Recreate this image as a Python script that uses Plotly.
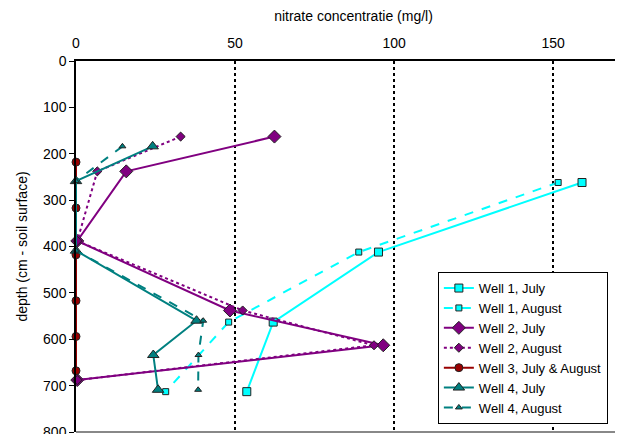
import plotly.graph_objects as go

# depth (cm) and nitrate (mg/l)
w1_july_x = [159.1, 95.1, 62.0, 53.7]
w1_july_d = [262, 412, 563, 713]
w1_aug_x = [151.6, 88.9, 48.0, 28.2]
w1_aug_d = [262, 412, 563, 713]

w2_july_x = [62.4, 15.8, 0.4, 48.4, 96.6, 0.4]
w2_july_d = [163, 238, 388, 538, 613, 688]
w2_aug_x = [32.9, 6.7, 0.4, 52.4, 93.7, 0.4]
w2_aug_d = [163, 238, 388, 538, 613, 688]

w3_x = [0, 0, 0, 0, 0, 0]
w3_d = [218, 317, 418, 517, 594, 668]

w4_july_x = [24.1, 0, 0, 37.9, 24.3, 25.8]
w4_july_d = [184, 259, 409, 560, 634, 709]
w4_aug_x = [14.6, 0, 0, 40.0, 38.5, 38.4]
w4_aug_d = [184, 259, 409, 560, 634, 709]

x_ticks = [0, 50, 100, 150]
y_ticks = [0, 100, 200, 300, 400, 500, 600, 700, 800]

CYAN = "#00FFFF"
PURPLE = "#800080"
RED = "#990000"
TEAL = "#008080"

fig = go.Figure()

def add(name, x, y, color, dash, symbol, size):
    fig.add_trace(go.Scatter(
        x=x, y=y, name=name, mode="lines+markers", cliponaxis=False,
        line=dict(color=color, width=2, dash=dash),
        marker=dict(symbol=symbol, size=size, color=color,
                    line=dict(color="#222222", width=1)),
    ))

add("Well 1, July", w1_july_x, w1_july_d, CYAN, "solid", "square", 8)
add("Well 1, August", w1_aug_x, w1_aug_d, CYAN, "dash", "square", 6)
add("Well 2, July", w2_july_x, w2_july_d, PURPLE, "solid", "diamond", 10)
add("Well 2, August", w2_aug_x, w2_aug_d, PURPLE, "dot", "diamond", 7)
add("Well 3, July & August", w3_x, w3_d, RED, "solid", "circle", 8)
add("Well 4, July", w4_july_x, w4_july_d, TEAL, "solid", "triangle-up", 10)
add("Well 4, August", w4_aug_x, w4_aug_d, TEAL, "dash", "triangle-up", 6)

font = "Liberation Sans, Arial, sans-serif"

# page body has an 8px default margin, so offsets compensate for it
fig.update_layout(
    width=623, height=434,
    margin=dict(l=68, r=0, t=53, b=10),
    paper_bgcolor="white", plot_bgcolor="white",
    font=dict(family=font, size=14, color="black"),
    showlegend=True,
    legend=dict(
        x=0.652, y=0.431, xanchor="left", yanchor="top",
        bgcolor="white", bordercolor="black", borderwidth=1,
        font=dict(size=13, family=font), tracegroupgap=0,
        itemwidth=30,
    ),
    xaxis=dict(
        side="top", range=[0, 174.5], tickvals=x_ticks, automargin=False,
        showgrid=True, gridcolor="black", griddash="dot", gridwidth=1.5,
        zeroline=False, showline=True, linecolor="black", linewidth=1.5,
        ticks="", tickfont=dict(size=14), ticklabelstandoff=6,
        title=dict(text="nitrate concentratie (mg/l)", font=dict(size=14), standoff=14),
    ),
    yaxis=dict(
        range=[800, 0], tickvals=y_ticks, automargin=False,
        showgrid=False, zeroline=False, showline=True, linecolor="black", linewidth=1.5,
        ticks="outside", ticklen=5, tickcolor="black",
        tickfont=dict(size=14),
        title=dict(text="depth (cm - soil surface)", font=dict(size=14), standoff=12),
    ),
)

fig.add_shape(type="line", xref="paper", yref="paper", x0=0, x1=1, y0=0, y1=0,
              line=dict(color="#888888", width=2))

fig.write_html("out.html")
